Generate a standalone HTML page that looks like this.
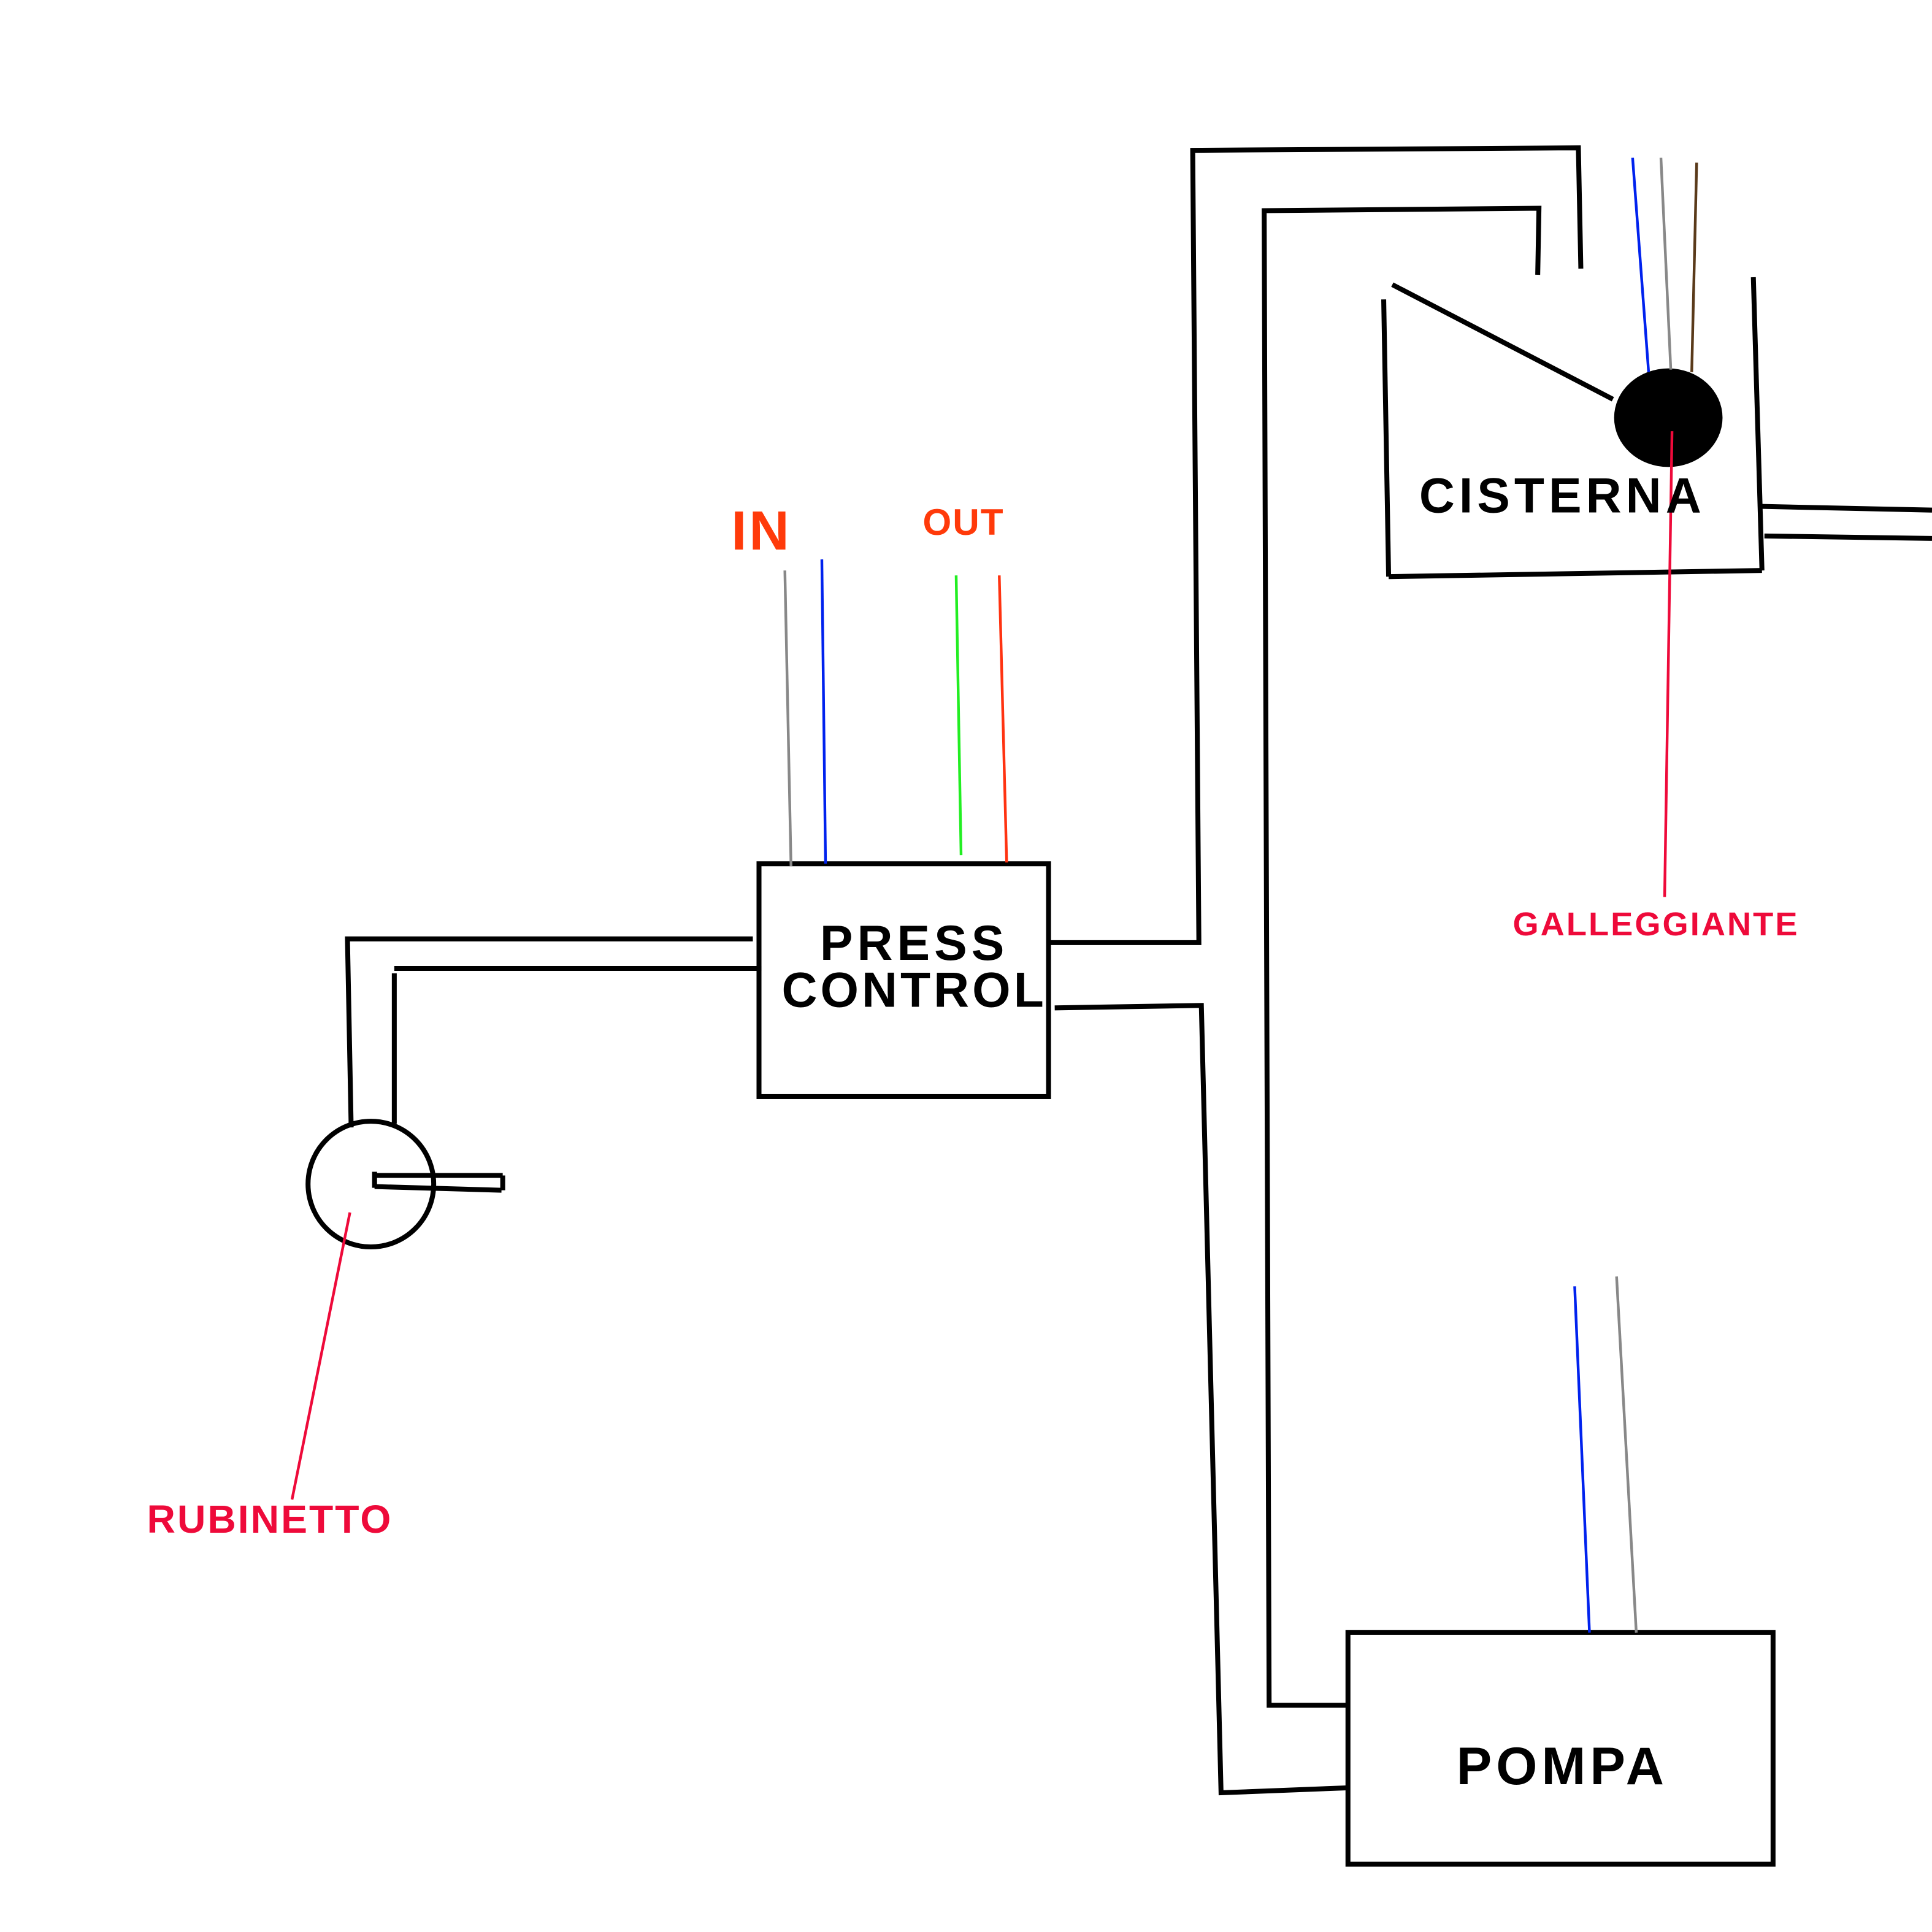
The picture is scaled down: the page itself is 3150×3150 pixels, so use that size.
<!DOCTYPE html>
<html><head><meta charset="utf-8"><style>
html,body{margin:0;padding:0;background:#fff;}
svg{display:block;}
text{font-family:"Liberation Sans",sans-serif;font-weight:bold;text-anchor:middle;}
</style></head><body>
<svg width="3150" height="3150" viewBox="0 0 1568 1568" xmlns="http://www.w3.org/2000/svg">
<rect width="1568" height="1568" fill="#fff"/>
<g stroke="#000" stroke-width="4" fill="none" stroke-linecap="butt">
<polyline points="852,765 973,765 968,122 1281,120 1283,218"/>
<polyline points="1093,1384 1030,1384 1026,171 1249,169 1248,223"/>
<polyline points="856,818 975,816 991,1455 1093,1451"/>
<line x1="1123" y1="243" x2="1127" y2="468"/>
<line x1="1127" y1="468" x2="1430" y2="463"/>
<line x1="1430" y1="463" x2="1423" y2="225"/>
<line x1="1130" y1="231" x2="1309" y2="324"/>
<line x1="1430" y1="411" x2="1568" y2="414"/>
<line x1="1432" y1="435" x2="1568" y2="437"/>
<rect x="616" y="701" width="235" height="189"/>
<polyline points="611,762 282,762 285,915"/>
<line x1="320" y1="786" x2="618" y2="786"/>
<line x1="320" y1="790" x2="320" y2="912"/>
<circle cx="301" cy="961" r="51"/>
<line x1="304" y1="954" x2="408" y2="954"/>
<line x1="304" y1="963" x2="407" y2="966"/>
<line x1="304" y1="951" x2="304" y2="964"/>
<line x1="408" y1="954" x2="408" y2="966"/>
<rect x="1094" y="1325" width="345" height="188"/>
</g>
<ellipse cx="1354" cy="339" rx="44" ry="40" fill="#000"/>
<g stroke-width="2.2">
<line x1="1325" y1="128" x2="1338" y2="302" stroke="#0022ee"/>
<line x1="1348" y1="128" x2="1356" y2="300" stroke="#888"/>
<line x1="1377" y1="132" x2="1373" y2="302" stroke="#5a3a1a"/>
<line x1="1357" y1="350" x2="1351" y2="728" stroke="#ee0a3a"/>
<line x1="637" y1="463" x2="642" y2="703" stroke="#888"/>
<line x1="667" y1="454" x2="670" y2="701" stroke="#0022ee"/>
<line x1="776" y1="467" x2="780" y2="694" stroke="#22ee22"/>
<line x1="811" y1="467" x2="817" y2="700" stroke="#ff3311"/>
<line x1="284" y1="984" x2="237" y2="1217" stroke="#ee0a3a"/>
<line x1="1278" y1="1044" x2="1290" y2="1325" stroke="#0022ee"/>
<line x1="1312" y1="1036" x2="1328" y2="1325" stroke="#888"/>
</g>
<text x="618" y="446" font-size="45" fill="#ff3a0a" letter-spacing="2">IN</text>
<text x="782" y="434" font-size="30" fill="#ff3a0a" letter-spacing="1">OUT</text>
<text x="742" y="779" font-size="40" fill="#000" letter-spacing="3.5">PRESS</text>
<text x="742" y="817" font-size="40" fill="#000" letter-spacing="2.5">CONTROL</text>
<text x="1268" y="416" font-size="40" fill="#000" letter-spacing="3.5">CISTERNA</text>
<text x="1344" y="759" font-size="27" fill="#ee0a3a" letter-spacing="1.5">GALLEGGIANTE</text>
<text x="219" y="1244" font-size="32" fill="#ee0a3a" letter-spacing="1.5">RUBINETTO</text>
<text x="1268" y="1448" font-size="43" fill="#000" letter-spacing="3.5">POMPA</text>
</svg>
</body></html>
